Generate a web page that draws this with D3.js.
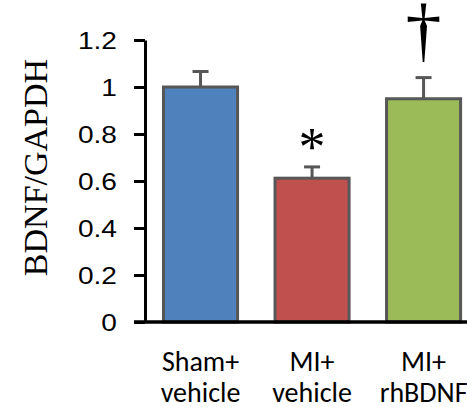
<!DOCTYPE html>
<html>
<head>
<meta charset="utf-8">
<script src="https://cdn.jsdelivr.net/npm/d3@7/dist/d3.min.js"></script>
<style>
  html, body { margin: 0; padding: 0; background: #fff; }
  svg { display: block; }
</style>
</head>
<body>
<svg id="chart" width="467" height="407"></svg>
<script>
// ---- data ----
const categories = ["Sham+\nvehicle", "MI+\nvehicle", "MI+\nrhBDNF"];
const values = [1.0, 0.612, 0.95];
const errors = [0.066, 0.048, 0.09];
const marks = ["", "*", "\u2020"];
const colors = ["#4F81BD", "#C0504D", "#9BBB59"];
const yTicks = [0, 0.2, 0.4, 0.6, 0.8, 1, 1.2];
const yLabel = "BDNF/GAPDH";

const svg = d3.select("#chart");

const y = d3.scaleLinear().domain([0, 1.2]).range([322, 40]);
const x = d3.scaleBand()
  .domain(d3.range(categories.length))
  .range([145, 479.1])
  .paddingInner(0.336)
  .paddingOuter(0.166);

const rows = categories.map((c, i) => ({ i, c, v: values[i], e: errors[i], m: marks[i], col: colors[i] }));

// error bars (behind bars)
const eb = svg.append("g").attr("stroke", "#575757").attr("stroke-width", 3);
eb.selectAll("line.stem").data(rows).join("line")
  .attr("x1", d => x(d.i) + x.bandwidth() / 2)
  .attr("x2", d => x(d.i) + x.bandwidth() / 2)
  .attr("y1", d => y(d.v))
  .attr("y2", d => y(d.v + d.e));
eb.selectAll("line.cap").data(rows).join("line")
  .attr("x1", d => x(d.i) + x.bandwidth() / 2 - 8)
  .attr("x2", d => x(d.i) + x.bandwidth() / 2 + 8)
  .attr("y1", d => y(d.v + d.e))
  .attr("y2", d => y(d.v + d.e));

// bars
svg.append("g").selectAll("rect").data(rows).join("rect")
  .attr("x", d => x(d.i))
  .attr("width", x.bandwidth())
  .attr("y", d => y(d.v))
  .attr("height", d => y(0) - y(d.v))
  .attr("fill", d => d.col)
  .attr("stroke", "#575757")
  .attr("stroke-width", 3);

// y axis
const yAxis = svg.append("g")
  .attr("transform", "translate(145,0)")
  .call(d3.axisLeft(y).tickValues(yTicks).tickSize(11).tickSizeOuter(0)
    .tickFormat(d => d3.format("")(d)));
yAxis.select(".domain").attr("stroke", "#000").attr("stroke-width", 3);
yAxis.selectAll(".tick line").attr("stroke", "#000").attr("stroke-width", 3);
yAxis.selectAll(".tick text")
  .attr("x", -24)
  .attr("dy", "0.36em")
  .attr("transform", "scale(1.17,1)")
  .attr("fill", "#000")
  .style("font-family", "'Liberation Sans', Arial, sans-serif")
  .style("font-size", "24px");

// x axis line
svg.append("line")
  .attr("x1", 134).attr("x2", 467)
  .attr("y1", y(0)).attr("y2", y(0))
  .attr("stroke", "#000").attr("stroke-width", 3.5);

// category labels
const lab = svg.append("g").selectAll("text").data(rows).join("text")
  .attr("text-anchor", "middle")
  .attr("fill", "#000")
  .style("font-family", "Carlito, Calibri, Lato, sans-serif")
  .style("font-size", "28px");
lab.selectAll("tspan").data(d => d.c.split("\n").map(t => ({ t, d })))
  .join("tspan")
  .attr("x", o => x(o.d.i) + x.bandwidth() / 2)
  .attr("y", (o, k) => 371 + k * 31)
  .text(o => o.t);

// significance marks
svg.append("g").selectAll("text").data(rows.filter(d => d.m)).join("text")
  .attr("text-anchor", "middle")
  .attr("x", d => x(d.i) + x.bandwidth() / 2)
  .attr("y", d => d.m === "*" ? y(d.v + d.e) - 2 : y(d.v + d.e) - 24)
  .style("font-family", "'Liberation Serif', 'Times New Roman', serif")
  .style("font-size", d => d.m === "*" ? "54px" : "72px")
  .attr("fill", "#000")
  .text(d => d.m);

// y label
svg.append("text")
  .attr("transform", "translate(47,167.5) rotate(-90)")
  .attr("text-anchor", "middle")
  .style("font-family", "'Liberation Serif', 'Times New Roman', serif")
  .style("font-size", "34px")
  .attr("fill", "#000")
  .text(yLabel);
</script>
</body>
</html>
